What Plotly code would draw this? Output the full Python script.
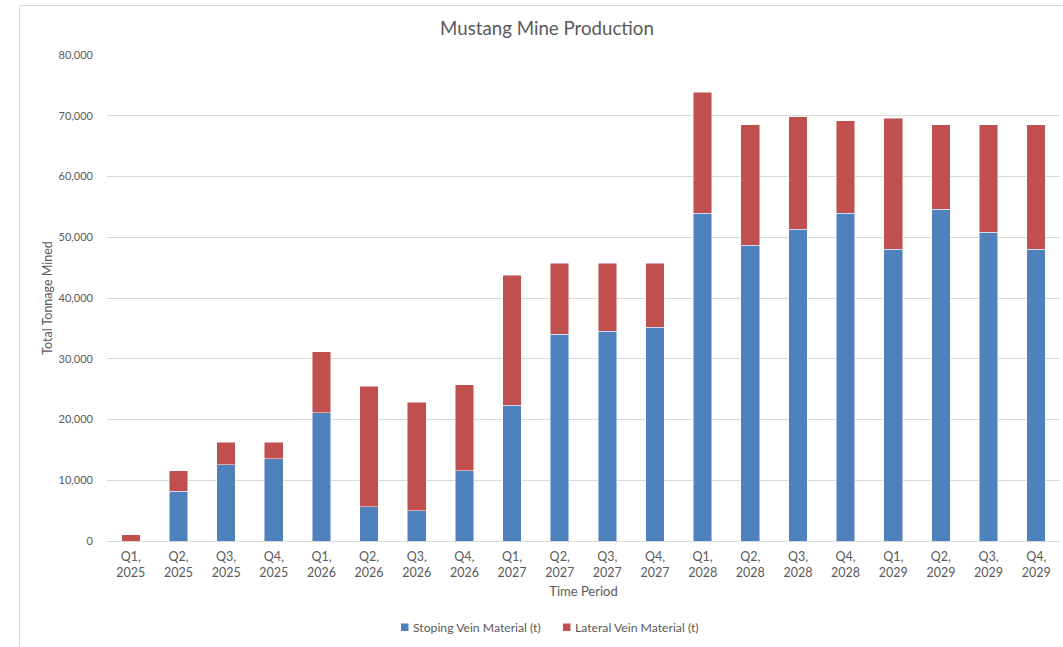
import plotly.graph_objects as go

periods = ["Q1,<br>2025", "Q2,<br>2025", "Q3,<br>2025", "Q4,<br>2025",
           "Q1,<br>2026", "Q2,<br>2026", "Q3,<br>2026", "Q4,<br>2026",
           "Q1,<br>2027", "Q2,<br>2027", "Q3,<br>2027", "Q4,<br>2027",
           "Q1,<br>2028", "Q2,<br>2028", "Q3,<br>2028", "Q4,<br>2028",
           "Q1,<br>2029", "Q2,<br>2029", "Q3,<br>2029", "Q4,<br>2029"]

stoping = [0, 8230, 12520, 13500,
           21080, 5600, 4940, 11580,
           22360, 34050, 34550, 35200,
           53990, 48710, 51350, 53990,
           47990, 54640, 50850, 47990]

lateral = [1000, 3350, 3720, 2740,
           10050, 19870, 17890, 14120,
           21410, 11700, 11200, 10550,
           19870, 19820, 18500, 15200,
           21640, 13890, 17680, 20540]

series_names = ["Stoping Vein Material (t)", "Lateral Vein Material (t)"]

y_ticks = [0, 10000, 20000, 30000, 40000, 50000, 60000, 70000, 80000]

BLUE = "#4F81BD"
RED = "#C0504D"
GRID = "#D9D9D9"
TXT = "#595959"
FONT = "Lato"

fig = go.Figure()
fig.add_trace(go.Bar(name=series_names[0], x=periods, y=stoping,
                     marker=dict(color=BLUE, line=dict(color="rgba(255,255,255,0.6)", width=0.8))))
fig.add_trace(go.Bar(name=series_names[1], x=periods, y=lateral,
                     marker=dict(color=RED, line=dict(color="rgba(255,255,255,0.6)", width=0.8))))

# plot area px: x 107..1060, y 55..541
L, R, T, B = 107, 1060, 55, 541
W, H = R - L, B - T

def px_x(p):
    return (p - L) / W

def px_y(p):
    return (B - p) / H

# chart-area border
fig.add_shape(type="rect", xref="paper", yref="paper",
              x0=px_x(19.5), x1=px_x(1075), y0=px_y(660), y1=px_y(5.5),
              line=dict(color=GRID, width=1), fillcolor="rgba(0,0,0,0)", layer="below")

# legend drawn manually (square right next to text, as in the reference)
legend_items = [(series_names[0], BLUE, 401, 410.5), (series_names[1], RED, 563, 572.5)]
for name, col, sx, tx in legend_items:
    fig.add_shape(type="rect", xref="paper", yref="paper",
                  x0=px_x(sx), x1=px_x(sx + 7.5), y0=px_y(631), y1=px_y(623.5),
                  line=dict(width=0), fillcolor=col)
    fig.add_annotation(xref="paper", yref="paper", x=px_x(tx), y=px_y(627.5),
                       xanchor="left", yanchor="middle", showarrow=False, text=name,
                       font=dict(family=FONT, size=12.2, color=TXT))

fig.update_layout(
    width=1063, height=647,
    margin=dict(l=L, r=1063 - R, t=T, b=647 - B),
    paper_bgcolor="white", plot_bgcolor="white",
    barmode="stack", bargap=0.61, showlegend=False,
    font=dict(family=FONT, color=TXT, size=11),
    title=dict(text="Mustang Mine Production", x=547 / 1063, xanchor="center",
               y=1 - 28 / 647, yanchor="middle", xref="container", yref="container",
               font=dict(family=FONT, size=18.7, color=TXT)),
    xaxis=dict(type="category", showgrid=False, showline=False, ticks="",
               ticklabelstandoff=6,
               tickfont=dict(family=FONT, size=12.5, color=TXT),
               title=dict(text="Time Period", font=dict(family=FONT, size=13, color=TXT), standoff=8),
               zeroline=False),
    yaxis=dict(range=[0, 80000], tickvals=y_ticks, tickformat=",d", showgrid=True,
               gridcolor=GRID, gridwidth=1, zeroline=True, zerolinecolor=GRID, zerolinewidth=1,
               showline=False, ticks="", ticklabelstandoff=13,
               tickfont=dict(family=FONT, size=11, color=TXT),
               title=dict(text="Total Tonnage Mined", font=dict(family=FONT, size=12.5, color=TXT), standoff=3)),
)

fig.write_html("out.html", config={"displayModeBar": False},
               post_script="document.body.style.margin='0px';")
